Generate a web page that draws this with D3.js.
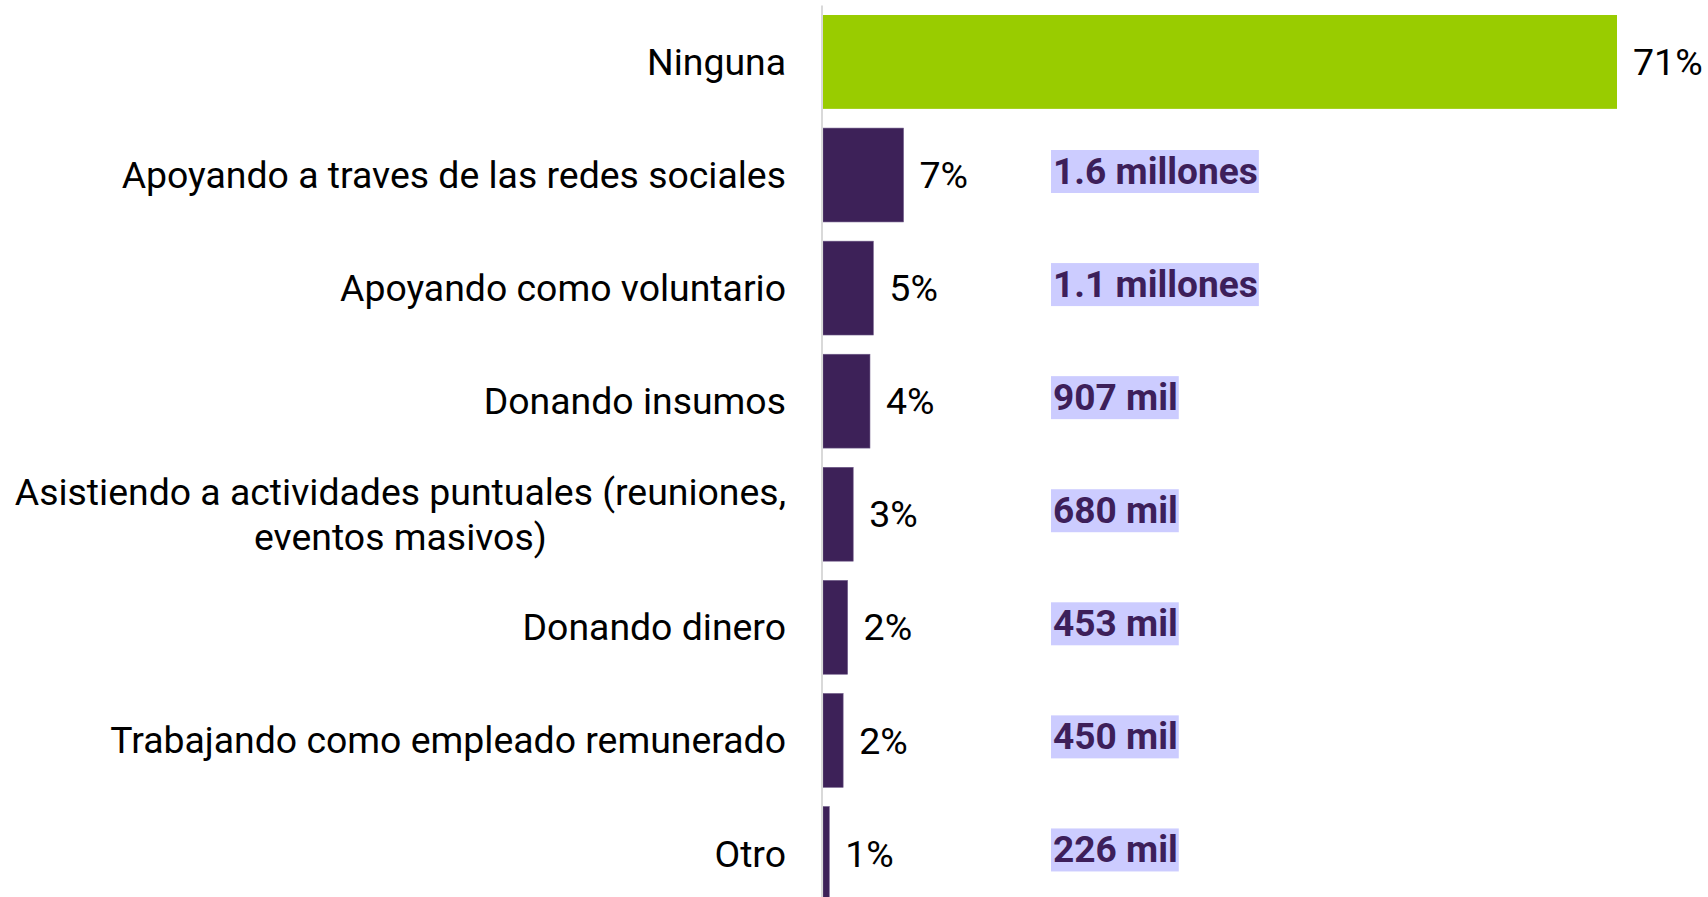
<!DOCTYPE html>
<html>
<head>
<meta charset="utf-8">
<script src="https://cdn.jsdelivr.net/npm/d3@7"></script>
<style>
  body { margin: 0; background: #fff; }
  svg { display: block; font-family: Roboto, sans-serif; }
</style>
</head>
<body>
<div id="chart"></div>
<script>
// datos
const categories = [
  "Ninguna",
  "Apoyando a traves de las redes sociales",
  "Apoyando como voluntario",
  "Donando insumos",
  "Asistiendo a actividades puntuales (reuniones, eventos masivos)",
  "Donando dinero",
  "Trabajando como empleado remunerado",
  "Otro"
];
const shares = [71.0, 7.2, 4.5, 4.2, 2.7, 2.2, 1.8, 0.56];
const people = ["", "1.6 millones", "1.1 millones", "907 mil", "680 mil", "453 mil", "450 mil", "226 mil"];

const width = 1708, height = 897;
const green = "#99cc00", purple = "#3d2158", lavender = "#ccccff";

const rows = categories.map((c, i) => ({ cat: c, v: shares[i], pop: people[i], i: i }));

const svg = d3.select("#chart").append("svg")
  .attr("width", width)
  .attr("height", height)
  .attr("viewBox", [0, 0, width, height]);

const x = d3.scaleLinear()
  .domain([0, d3.max(shares)])
  .range([823, 1617]);

const y = d3.scaleBand()
  .domain(categories)
  .range([5.4, 910])
  .paddingInner(0.17)
  .paddingOuter(0.085);

// barras
svg.append("g")
  .selectAll("rect")
  .data(rows)
  .join("rect")
  .attr("x", x(0))
  .attr("y", d => y(d.cat))
  .attr("width", d => x(d.v) - x(0))
  .attr("height", y.bandwidth())
  .attr("fill", d => d.i == 0 ? green : purple)
  .attr("stroke", d => d.i == 0 ? "none" : "#6e5a88")
  .attr("stroke-width", 0.6);

// eje vertical
svg.append("line")
  .attr("x1", x(0) - 1).attr("x2", x(0) - 1)
  .attr("y1", y.range()[0]).attr("y2", y.range()[1])
  .attr("stroke", "#d9d9d9")
  .attr("stroke-width", 2);

// etiquetas de categoria (con salto de linea, centradas en su caja)
const labelRight = 786, wrapWidth = 790;
const catG = svg.append("g")
  .attr("font-size", 37.4)
  .attr("fill", "#000");

rows.forEach(d => {
  const t = catG.append("text");
  const words = d.cat.split(" ");
  const lines = [];
  let line = [];
  const probe = t.append("tspan");
  words.forEach(w => {
    line.push(w);
    probe.text(line.join(" "));
    if (probe.node().getComputedTextLength() > wrapWidth && line.length > 1) {
      line.pop();
      lines.push(line.join(" "));
      line = [w];
    }
  });
  lines.push(line.join(" "));
  probe.remove();

  const lh = 45;
  const cy = y(d.cat) + y.bandwidth() / 2;
  const spans = lines.map((l, k) => t.append("tspan")
    .attr("y", cy + (k - (lines.length - 1) / 2) * lh)
    .attr("dy", "0.35em")
    .text(l));
  const maxW = d3.max(spans, s => s.node().getComputedTextLength());
  if (lines.length > 1) {
    spans.forEach(s => s.attr("x", labelRight - maxW / 2).attr("text-anchor", "middle"));
  } else {
    spans.forEach(s => s.attr("x", labelRight).attr("text-anchor", "end"));
  }
});

// porcentajes
svg.append("g")
  .attr("font-size", 37.5)
  .attr("fill", "#000")
  .selectAll("text")
  .data(rows)
  .join("text")
  .attr("x", d => x(d.v) + 16)
  .attr("y", d => y(d.cat) + y.bandwidth() / 2)
  .attr("dy", "0.35em")
  .text(d => Math.round(d.v) + "%");

// poblacion estimada, texto resaltado
const popG = svg.append("g")
  .attr("font-size", 37.1)
  .attr("font-weight", "bold");

rows.filter(d => d.pop).forEach(d => {
  const g = popG.append("g");
  const txt = g.append("text")
    .attr("x", 1053)
    .attr("y", y(d.cat) + y.bandwidth() / 2 - 4)
    .attr("dy", "0.35em")
    .attr("fill", "#3d1f5a")
    .text(d.pop);
  const b = txt.node().getBBox();
  g.insert("rect", "text")
    .attr("x", b.x - 2)
    .attr("y", b.y)
    .attr("width", b.width + 3)
    .attr("height", b.height)
    .attr("fill", lavender);
});
</script>
</body>
</html>
